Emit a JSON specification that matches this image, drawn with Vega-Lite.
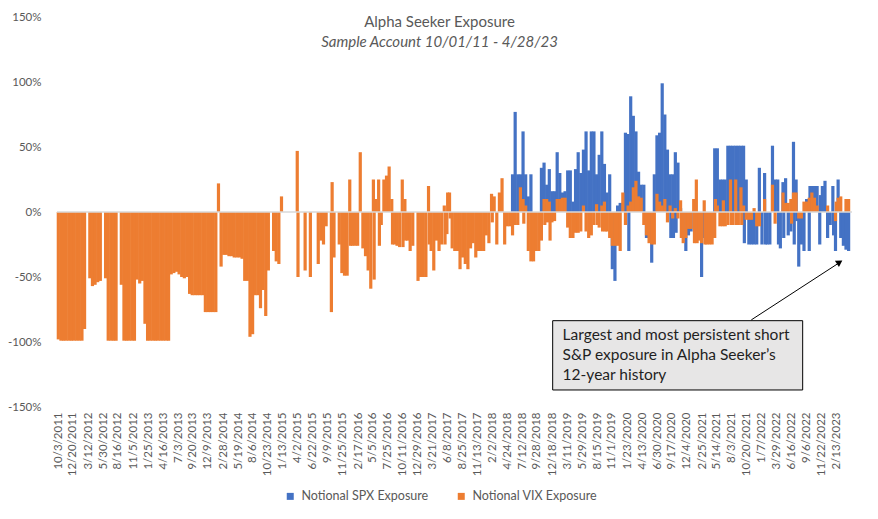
{
  "$schema": "https://vega.github.io/schema/vega-lite/v6.json",
  "width": 805,
  "height": 390,
  "autosize": {"type": "none"},
  "padding": {"left": 52, "top": 17, "right": 21, "bottom": 112},
  "config": {"font": "Lato", "view": {"stroke": null}, "axis": {"labelOverlap": false}},
  "title": {"text": "Alpha Seeker Exposure", "subtitle": "Sample Account 10/01/11 - 4/28/23", "anchor": "middle", "frame": "group", "offset": -39, "dx": -15, "font": "Lato", "fontSize": 15, "fontWeight": "normal", "color": "#595959", "subtitleFont": "Lato", "subtitleFontSize": 15, "subtitleFontStyle": "italic", "subtitleColor": "#595959", "subtitlePadding": 5},
  "datasets": {
    "spx": [
      {"d":"2018-05-21","v":29},{"d":"2018-06-04","v":77},{"d":"2018-06-18","v":29},{"d":"2018-07-02","v":29},{"d":"2018-07-16","v":62},{"d":"2018-07-30","v":29},{"d":"2018-08-13","v":12},{"d":"2018-08-27","v":29},
      {"d":"2018-10-22","v":34},{"d":"2018-11-05","v":38},{"d":"2018-11-19","v":21},{"d":"2018-12-03","v":33},{"d":"2018-12-17","v":16},{"d":"2018-12-31","v":16},
      {"d":"2019-01-14","v":46},{"d":"2019-01-28","v":30},{"d":"2019-02-11","v":15},{"d":"2019-02-25","v":16},{"d":"2019-03-11","v":32},{"d":"2019-03-25","v":32},{"d":"2019-04-08","v":8},{"d":"2019-04-22","v":33},{"d":"2019-05-06","v":46},{"d":"2019-05-20","v":30},{"d":"2019-06-03","v":48},{"d":"2019-06-17","v":62},{"d":"2019-07-01","v":32},{"d":"2019-07-15","v":62},{"d":"2019-07-29","v":62},{"d":"2019-08-12","v":29},{"d":"2019-08-26","v":44},{"d":"2019-09-09","v":62},{"d":"2019-09-23","v":37},{"d":"2019-10-07","v":15},{"d":"2019-10-21","v":29},{"d":"2019-11-04","v":-44},{"d":"2019-11-18","v":-53},{"d":"2019-12-02","v":5},{"d":"2019-12-16","v":7},{"d":"2019-12-30","v":7},
      {"d":"2020-01-13","v":61},{"d":"2020-01-27","v":60},{"d":"2020-01-31","v":-30},{"d":"2020-02-10","v":89},{"d":"2020-02-24","v":74},{"d":"2020-03-09","v":62},{"d":"2020-03-23","v":31},{"d":"2020-04-06","v":21},{"d":"2020-04-20","v":21},{"d":"2020-05-04","v":-20},{"d":"2020-05-18","v":-20},{"d":"2020-06-01","v":-39},{"d":"2020-06-15","v":29},{"d":"2020-06-29","v":59},{"d":"2020-07-13","v":61},{"d":"2020-07-27","v":99},{"d":"2020-08-10","v":75},{"d":"2020-08-24","v":48},{"d":"2020-09-07","v":29},{"d":"2020-09-11","v":-20},{"d":"2020-09-21","v":29},{"d":"2020-09-25","v":-20},{"d":"2020-10-05","v":46},{"d":"2020-10-09","v":-16},{"d":"2020-10-19","v":38},{"d":"2020-11-02","v":3},{"d":"2020-11-30","v":-30},{"d":"2020-12-14","v":-18},{"d":"2020-12-28","v":-15},
      {"d":"2021-02-08","v":-10},{"d":"2021-02-22","v":-50},{"d":"2021-03-08","v":-20},{"d":"2021-03-22","v":-16},{"d":"2021-04-05","v":-24},{"d":"2021-04-19","v":-20},{"d":"2021-05-03","v":49},{"d":"2021-05-17","v":49},{"d":"2021-05-31","v":25},{"d":"2021-06-14","v":25},{"d":"2021-06-28","v":25},{"d":"2021-07-12","v":51},{"d":"2021-07-26","v":51},{"d":"2021-08-09","v":51},{"d":"2021-08-23","v":51},{"d":"2021-09-06","v":51},{"d":"2021-09-20","v":51},{"d":"2021-10-04","v":51},{"d":"2021-10-08","v":-24},{"d":"2021-10-18","v":25},{"d":"2021-11-01","v":-25},{"d":"2021-11-15","v":-25},{"d":"2021-11-29","v":-25},{"d":"2021-12-13","v":-25},{"d":"2021-12-27","v":34},
      {"d":"2022-01-10","v":-25},{"d":"2022-01-24","v":30},{"d":"2022-01-28","v":-25},{"d":"2022-02-07","v":-25},{"d":"2022-02-21","v":-25},{"d":"2022-03-07","v":51},{"d":"2022-03-21","v":25},{"d":"2022-04-04","v":25},{"d":"2022-04-08","v":-25},{"d":"2022-04-18","v":-28},{"d":"2022-05-02","v":23},{"d":"2022-05-06","v":-20},{"d":"2022-05-16","v":26},{"d":"2022-05-30","v":-18},{"d":"2022-06-13","v":-15},{"d":"2022-06-27","v":54},{"d":"2022-07-01","v":-25},{"d":"2022-07-11","v":25},{"d":"2022-07-15","v":-7},{"d":"2022-07-25","v":-42},{"d":"2022-08-08","v":-25},{"d":"2022-08-22","v":-30},{"d":"2022-09-05","v":10},{"d":"2022-09-19","v":-30},{"d":"2022-09-23","v":20},{"d":"2022-10-03","v":20},{"d":"2022-10-17","v":20},{"d":"2022-10-31","v":20},{"d":"2022-11-14","v":-25},{"d":"2022-11-18","v":13},{"d":"2022-11-28","v":20},{"d":"2022-12-12","v":24},{"d":"2022-12-26","v":-20},
      {"d":"2023-01-09","v":-10},{"d":"2023-01-23","v":20},{"d":"2023-01-27","v":-18},{"d":"2023-02-06","v":-30},{"d":"2023-02-20","v":25},{"d":"2023-03-06","v":-20},{"d":"2023-03-20","v":-26},{"d":"2023-04-03","v":-29},{"d":"2023-04-17","v":-30}
    ],
    "vix": [
      {"d":"2011-10-03","v":-98},{"d":"2011-10-17","v":-99},{"d":"2011-10-31","v":-99},{"d":"2011-11-14","v":-99},{"d":"2011-11-28","v":-99},{"d":"2011-12-12","v":-99},{"d":"2011-12-26","v":-99},
      {"d":"2012-01-09","v":-99},{"d":"2012-01-23","v":-99},{"d":"2012-02-06","v":-99},{"d":"2012-02-20","v":-90},{"d":"2012-03-19","v":-51},{"d":"2012-04-02","v":-57},{"d":"2012-04-16","v":-56},{"d":"2012-04-30","v":-54},{"d":"2012-05-14","v":-53},{"d":"2012-06-11","v":-51},{"d":"2012-06-25","v":-99},{"d":"2012-07-09","v":-99},{"d":"2012-07-23","v":-99},{"d":"2012-08-06","v":-99},{"d":"2012-09-03","v":-56},{"d":"2012-09-17","v":-99},{"d":"2012-10-01","v":-99},{"d":"2012-10-15","v":-99},{"d":"2012-10-29","v":-99},{"d":"2012-11-12","v":-99},{"d":"2012-11-26","v":-52},{"d":"2012-12-10","v":-55},{"d":"2012-12-24","v":-53},
      {"d":"2013-01-07","v":-86},{"d":"2013-01-21","v":-99},{"d":"2013-02-04","v":-99},{"d":"2013-02-18","v":-99},{"d":"2013-03-04","v":-99},{"d":"2013-03-18","v":-99},{"d":"2013-04-01","v":-99},{"d":"2013-04-15","v":-99},{"d":"2013-04-29","v":-99},{"d":"2013-05-13","v":-99},{"d":"2013-05-27","v":-48},{"d":"2013-06-10","v":-47},{"d":"2013-06-24","v":-46},{"d":"2013-07-08","v":-48},{"d":"2013-07-22","v":-50},{"d":"2013-08-05","v":-51},{"d":"2013-08-19","v":-50},{"d":"2013-09-02","v":-63},{"d":"2013-09-16","v":-64},{"d":"2013-09-30","v":-64},{"d":"2013-10-14","v":-64},{"d":"2013-10-28","v":-64},{"d":"2013-11-11","v":-64},{"d":"2013-11-25","v":-77},{"d":"2013-12-09","v":-77},{"d":"2013-12-23","v":-77},
      {"d":"2014-01-06","v":-77},{"d":"2014-01-20","v":-77},{"d":"2014-02-03","v":22},{"d":"2014-02-17","v":-42},{"d":"2014-03-03","v":-33},{"d":"2014-03-17","v":-33},{"d":"2014-03-31","v":-34},{"d":"2014-04-14","v":-34},{"d":"2014-04-28","v":-35},{"d":"2014-05-12","v":-35},{"d":"2014-05-26","v":-35},{"d":"2014-06-09","v":-36},{"d":"2014-06-23","v":-53},{"d":"2014-07-07","v":-53},{"d":"2014-07-21","v":-96},{"d":"2014-08-04","v":-94},{"d":"2014-08-18","v":-64},{"d":"2014-09-01","v":-64},{"d":"2014-09-15","v":-74},{"d":"2014-09-29","v":-60},{"d":"2014-10-13","v":-80},{"d":"2014-10-27","v":-45},{"d":"2014-11-24","v":-30},{"d":"2014-12-08","v":-38},{"d":"2014-12-22","v":-40},
      {"d":"2015-01-05","v":12},{"d":"2015-03-30","v":47},{"d":"2015-04-03","v":-50},{"d":"2015-05-11","v":-45},{"d":"2015-06-08","v":-50},{"d":"2015-07-20","v":-40},{"d":"2015-08-03","v":-22},{"d":"2015-08-17","v":-25},{"d":"2015-08-31","v":-11},{"d":"2015-09-28","v":-77},{"d":"2015-10-02","v":23},{"d":"2015-10-12","v":-35},{"d":"2015-11-09","v":-25},{"d":"2015-11-23","v":-47},{"d":"2015-12-07","v":-49},{"d":"2015-12-21","v":-49},
      {"d":"2016-01-04","v":25},{"d":"2016-01-08","v":-26},{"d":"2016-01-18","v":-26},{"d":"2016-02-01","v":-26},{"d":"2016-02-15","v":-26},{"d":"2016-02-29","v":46},{"d":"2016-03-14","v":-28},{"d":"2016-03-28","v":-34},{"d":"2016-04-11","v":-45},{"d":"2016-04-25","v":-59},{"d":"2016-05-09","v":25},{"d":"2016-05-13","v":-52},{"d":"2016-05-23","v":10},{"d":"2016-06-06","v":25},{"d":"2016-06-10","v":-26},{"d":"2016-06-20","v":-10},{"d":"2016-07-04","v":25},{"d":"2016-07-18","v":28},{"d":"2016-08-01","v":35},{"d":"2016-08-15","v":10},{"d":"2016-08-19","v":-25},{"d":"2016-08-29","v":-25},{"d":"2016-09-12","v":-26},{"d":"2016-09-26","v":-27},{"d":"2016-10-10","v":25},{"d":"2016-10-14","v":-27},{"d":"2016-10-24","v":10},{"d":"2016-10-28","v":-22},{"d":"2016-11-07","v":-22},{"d":"2016-11-21","v":-30},{"d":"2016-12-05","v":-26},
      {"d":"2017-01-02","v":-53},{"d":"2017-01-16","v":-50},{"d":"2017-01-30","v":-50},{"d":"2017-02-13","v":-50},{"d":"2017-02-27","v":20},{"d":"2017-03-03","v":-25},{"d":"2017-03-13","v":-30},{"d":"2017-03-27","v":-45},{"d":"2017-04-10","v":-22},{"d":"2017-04-24","v":-30},{"d":"2017-05-08","v":-25},{"d":"2017-05-22","v":5},{"d":"2017-05-26","v":-25},{"d":"2017-06-05","v":-17},{"d":"2017-06-09","v":15},{"d":"2017-06-19","v":15},{"d":"2017-06-23","v":-5},{"d":"2017-07-03","v":-28},{"d":"2017-07-17","v":-30},{"d":"2017-07-31","v":-30},{"d":"2017-08-14","v":-44},{"d":"2017-08-28","v":-35},{"d":"2017-09-11","v":-40},{"d":"2017-09-25","v":-44},{"d":"2017-10-09","v":-28},{"d":"2017-10-23","v":-24},{"d":"2017-11-06","v":-35},{"d":"2017-11-20","v":-30},{"d":"2017-12-04","v":-30},{"d":"2017-12-18","v":-30},
      {"d":"2018-01-01","v":-18},{"d":"2018-01-15","v":-24},{"d":"2018-01-29","v":14},{"d":"2018-02-02","v":-8},{"d":"2018-02-12","v":12},{"d":"2018-02-26","v":-25},{"d":"2018-03-12","v":15},{"d":"2018-03-26","v":26},{"d":"2018-04-09","v":-25},{"d":"2018-04-23","v":-11},{"d":"2018-05-07","v":-11},{"d":"2018-05-21","v":-18},{"d":"2018-06-04","v":-10},{"d":"2018-06-18","v":-10},{"d":"2018-07-02","v":19},{"d":"2018-07-16","v":10},{"d":"2018-07-20","v":-9},{"d":"2018-07-30","v":5},{"d":"2018-08-13","v":-30},{"d":"2018-08-27","v":-38},{"d":"2018-09-10","v":-38},{"d":"2018-09-24","v":-30},{"d":"2018-10-08","v":-30},{"d":"2018-10-22","v":-22},{"d":"2018-11-05","v":10},{"d":"2018-11-09","v":-10},{"d":"2018-11-19","v":10},{"d":"2018-11-23","v":-8},{"d":"2018-12-03","v":8},{"d":"2018-12-07","v":-22},{"d":"2018-12-17","v":-8},{"d":"2018-12-31","v":-7},
      {"d":"2019-01-14","v":10},{"d":"2019-01-28","v":10},{"d":"2019-02-11","v":11},{"d":"2019-02-25","v":11},{"d":"2019-03-11","v":-12},{"d":"2019-03-25","v":-20},{"d":"2019-04-08","v":-20},{"d":"2019-04-22","v":-16},{"d":"2019-05-06","v":-16},{"d":"2019-05-20","v":-15},{"d":"2019-06-03","v":5},{"d":"2019-06-17","v":-15},{"d":"2019-07-01","v":-20},{"d":"2019-07-15","v":-18},{"d":"2019-07-29","v":-10},{"d":"2019-08-12","v":6},{"d":"2019-08-16","v":-10},{"d":"2019-08-26","v":-12},{"d":"2019-09-09","v":5},{"d":"2019-09-13","v":-15},{"d":"2019-09-23","v":8},{"d":"2019-09-27","v":-15},{"d":"2019-10-07","v":-15},{"d":"2019-10-21","v":-20},{"d":"2019-11-04","v":-26},{"d":"2019-11-18","v":-26},{"d":"2019-12-02","v":-26},{"d":"2019-12-16","v":-30},{"d":"2019-12-30","v":15},
      {"d":"2020-01-13","v":-10},{"d":"2020-01-27","v":5},{"d":"2020-02-10","v":8},{"d":"2020-02-24","v":19},{"d":"2020-03-09","v":24},{"d":"2020-03-23","v":12},{"d":"2020-04-06","v":11},{"d":"2020-04-20","v":-10},{"d":"2020-05-04","v":-18},{"d":"2020-05-18","v":-24},{"d":"2020-06-01","v":-25},{"d":"2020-06-15","v":-25},{"d":"2020-06-29","v":14},{"d":"2020-07-13","v":8},{"d":"2020-07-27","v":5},{"d":"2020-08-10","v":10},{"d":"2020-08-24","v":-8},{"d":"2020-09-07","v":5},{"d":"2020-09-21","v":-5},{"d":"2020-10-05","v":3},{"d":"2020-10-19","v":-5},{"d":"2020-11-02","v":9},{"d":"2020-11-06","v":-20},{"d":"2020-11-16","v":-24},{"d":"2020-11-30","v":-20},{"d":"2020-12-14","v":-13},{"d":"2020-12-28","v":-13},
      {"d":"2021-01-11","v":10},{"d":"2021-01-15","v":-24},{"d":"2021-01-25","v":25},{"d":"2021-01-29","v":-24},{"d":"2021-02-08","v":-22},{"d":"2021-02-22","v":-24},{"d":"2021-03-08","v":9},{"d":"2021-03-12","v":-25},{"d":"2021-03-22","v":-25},{"d":"2021-04-05","v":-25},{"d":"2021-04-19","v":-25},{"d":"2021-05-03","v":-20},{"d":"2021-05-07","v":10},{"d":"2021-05-17","v":5},{"d":"2021-05-31","v":-11},{"d":"2021-06-14","v":-11},{"d":"2021-06-18","v":9},{"d":"2021-06-28","v":-11},{"d":"2021-07-12","v":-10},{"d":"2021-07-26","v":25},{"d":"2021-07-30","v":-10},{"d":"2021-08-09","v":-10},{"d":"2021-08-23","v":25},{"d":"2021-08-27","v":-10},{"d":"2021-09-06","v":-10},{"d":"2021-09-20","v":19},{"d":"2021-09-24","v":-10},{"d":"2021-10-04","v":5},{"d":"2021-10-18","v":-6},{"d":"2021-11-01","v":-6},{"d":"2021-11-15","v":-6},{"d":"2021-11-29","v":3},{"d":"2021-12-13","v":-11},{"d":"2021-12-27","v":-11},
      {"d":"2022-01-24","v":10},{"d":"2022-03-07","v":21},{"d":"2022-03-21","v":-9},{"d":"2022-05-02","v":15},{"d":"2022-05-16","v":7},{"d":"2022-05-30","v":7},{"d":"2022-06-13","v":10},{"d":"2022-06-17","v":-9},{"d":"2022-06-27","v":15},{"d":"2022-07-11","v":15},{"d":"2022-07-25","v":-5},{"d":"2022-08-08","v":-5},{"d":"2022-08-22","v":8},{"d":"2022-09-05","v":8},{"d":"2022-09-19","v":11},{"d":"2022-10-03","v":15},{"d":"2022-10-17","v":11},{"d":"2022-10-31","v":5},{"d":"2022-12-26","v":5},
      {"d":"2023-02-06","v":-7},{"d":"2023-02-10","v":8},{"d":"2023-02-20","v":11},{"d":"2023-03-06","v":12},{"d":"2023-04-03","v":10},{"d":"2023-04-17","v":10}
    ],
    "zero": [{"d":"2011-09-26","d2":"2023-05-05","v":0}],
    "box": [{"d":"2018-12-21","d2":"2022-08-15","v":-83.6,"v2":-136.9}],
    "notes": [
      {"d":"2019-02-12","v":-94.6,"t":"Largest and most persistent short"},
      {"d":"2019-02-12","v":-110,"t":"S&P exposure in Alpha Seeker’s"},
      {"d":"2019-02-12","v":-125.4,"t":"12-year history"}
    ],
    "arrow": [{"d":"2021-11-14","v":-83,"d2":"2023-02-20","v2":-39.6}],
    "head": [{"d":"2023-02-28","v":-38.6}]
  },
  "encoding": {
    "x": {"field": "d", "type": "temporal", "title": null,
      "scale": {"type": "utc", "domain": [{"year":2011,"month":9,"date":26,"utc":true},{"year":2023,"month":5,"date":5,"utc":true}]},
      "axis": {"values": [
        {"year":2011,"month":10,"date":3,"utc":true},{"year":2011,"month":12,"date":20,"utc":true},{"year":2012,"month":3,"date":12,"utc":true},{"year":2012,"month":5,"date":30,"utc":true},{"year":2012,"month":8,"date":16,"utc":true},{"year":2012,"month":11,"date":5,"utc":true},{"year":2013,"month":1,"date":25,"utc":true},{"year":2013,"month":4,"date":16,"utc":true},{"year":2013,"month":7,"date":3,"utc":true},{"year":2013,"month":9,"date":20,"utc":true},{"year":2013,"month":12,"date":9,"utc":true},{"year":2014,"month":2,"date":28,"utc":true},{"year":2014,"month":5,"date":19,"utc":true},{"year":2014,"month":8,"date":6,"utc":true},{"year":2014,"month":10,"date":23,"utc":true},{"year":2015,"month":1,"date":13,"utc":true},{"year":2015,"month":4,"date":2,"utc":true},{"year":2015,"month":6,"date":22,"utc":true},{"year":2015,"month":9,"date":9,"utc":true},{"year":2015,"month":11,"date":25,"utc":true},{"year":2016,"month":2,"date":17,"utc":true},{"year":2016,"month":5,"date":5,"utc":true},{"year":2016,"month":7,"date":25,"utc":true},{"year":2016,"month":10,"date":11,"utc":true},{"year":2016,"month":12,"date":29,"utc":true},{"year":2017,"month":3,"date":21,"utc":true},{"year":2017,"month":6,"date":8,"utc":true},{"year":2017,"month":8,"date":25,"utc":true},{"year":2017,"month":11,"date":13,"utc":true},{"year":2018,"month":2,"date":2,"utc":true},{"year":2018,"month":4,"date":24,"utc":true},{"year":2018,"month":7,"date":12,"utc":true},{"year":2018,"month":9,"date":28,"utc":true},{"year":2018,"month":12,"date":18,"utc":true},{"year":2019,"month":3,"date":11,"utc":true},{"year":2019,"month":5,"date":29,"utc":true},{"year":2019,"month":8,"date":15,"utc":true},{"year":2019,"month":11,"date":1,"utc":true},{"year":2020,"month":1,"date":23,"utc":true},{"year":2020,"month":4,"date":13,"utc":true},{"year":2020,"month":6,"date":30,"utc":true},{"year":2020,"month":9,"date":17,"utc":true},{"year":2020,"month":12,"date":4,"utc":true},{"year":2021,"month":2,"date":25,"utc":true},{"year":2021,"month":5,"date":14,"utc":true},{"year":2021,"month":8,"date":3,"utc":true},{"year":2021,"month":10,"date":20,"utc":true},{"year":2022,"month":1,"date":7,"utc":true},{"year":2022,"month":3,"date":29,"utc":true},{"year":2022,"month":6,"date":16,"utc":true},{"year":2022,"month":9,"date":6,"utc":true},{"year":2022,"month":11,"date":22,"utc":true},{"year":2023,"month":2,"date":13,"utc":true}
      ], "format": "%-m/%-d/%Y", "labelAngle": -90, "domain": false, "ticks": false, "grid": false, "labelColor": "#595959", "labelFontSize": 11.5, "labelPadding": 5, "labelOverlap": false, "labelFlush": false, "labelBound": false, "title": null}},
    "y": {"field": "v", "type": "quantitative", "title": null,
      "scale": {"domain": [-150, 150], "nice": false},
      "axis": {"values": [-150, -100, -50, 0, 50, 100, 150], "labelExpr": "datum.value + '%'", "domain": false, "ticks": false, "grid": false, "labelColor": "#595959", "labelFontSize": 11.5, "labelPadding": 11, "title": null}}
  },
  "layer": [
    {
      "data": {"name": "spx"},
      "mark": {"type": "bar", "width": 3.2},
      "encoding": {
        "color": {"datum": "Notional SPX Exposure", "type": "nominal",
          "scale": {"domain": ["Notional SPX Exposure", "Notional VIX Exposure"], "range": ["#4472c4", "#ed7d31"]},
          "legend": {"orient": "none", "legendX": 232, "legendY": 473, "direction": "horizontal", "title": null, "symbolType": "square", "symbolSize": 49, "symbolStrokeWidth": 0, "labelFont": "Lato", "labelFontSize": 12.5, "labelColor": "#595959", "labelOffset": 5, "columnPadding": 26}}
      }
    },
    {
      "data": {"name": "vix"},
      "mark": {"type": "bar", "width": 3.2},
      "encoding": {
        "color": {"datum": "Notional VIX Exposure", "type": "nominal"}
      }
    },
    {
      "data": {"name": "zero"},
      "mark": {"type": "rule", "color": "#d9d9d9", "strokeWidth": 1.3},
      "encoding": {"x2": {"field": "d2"}}
    },
    {
      "data": {"name": "box"},
      "mark": {"type": "rect", "fill": "#e7e6e6", "stroke": "#000000", "strokeWidth": 1},
      "encoding": {"x2": {"field": "d2"}, "y2": {"field": "v2"}}
    },
    {
      "data": {"name": "notes"},
      "mark": {"type": "text", "align": "left", "baseline": "middle", "font": "Lato", "fontSize": 15.5, "color": "#1f1f1f"},
      "encoding": {"text": {"field": "t"}}
    },
    {
      "data": {"name": "arrow"},
      "mark": {"type": "rule", "color": "#000000", "strokeWidth": 1},
      "encoding": {"x2": {"field": "d2"}, "y2": {"field": "v2"}}
    },
    {
      "data": {"name": "head"},
      "mark": {"type": "point", "shape": "triangle-up", "angle": 57, "filled": true, "color": "#000000", "size": 55, "opacity": 1},
      "encoding": {}
    }
  ]
}
